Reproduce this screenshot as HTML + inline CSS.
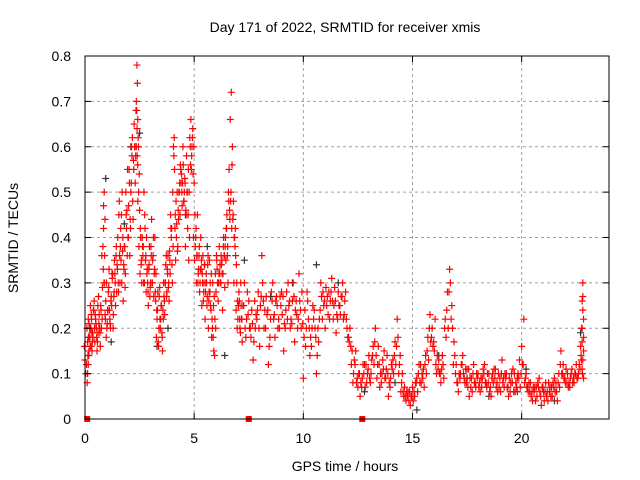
<!DOCTYPE html>
<html><head><meta charset="utf-8"><style>
html,body{margin:0;padding:0;background:#fff;}
svg{display:block;font-family:"Liberation Sans",sans-serif;}
</style></head><body>
<svg id="chart" width="640" height="480" viewBox="0 0 640 480" xmlns="http://www.w3.org/2000/svg">
<text x="345" y="32" font-size="14" text-anchor="middle">Day 171 of 2022, SRMTID for receiver xmis</text>
<text x="345" y="471" font-size="14" text-anchor="middle">GPS time / hours</text>
<text x="0" y="0" font-size="14" text-anchor="middle" transform="translate(18,238) rotate(-90)">SRMTID / TECUs</text>
<g id="grid"></g>
<g id="marks"></g>
<g id="axes"></g>
</svg>
<script>
const xTicks = [0, 5, 10, 15, 20];
const yTicks = [0, 0.1, 0.2, 0.3, 0.4, 0.5, 0.6, 0.7, 0.8];
const yTickLabels = ["0", "0.1", "0.2", "0.3", "0.4", "0.5", "0.6", "0.7", "0.8"];
const redHours = [
0,0.1,0.12,0.15,0.18,0.2,0.25,0.28,0.3,0.35,
0.4,0.45,0.5,0.55,0.6,0.65,0.7,0.75,0.8,0.85,
0.88,0.9,0.95,1.0,1.05,1.1,1.15,1.2,1.25,1.3,
1.35,1.4,1.45,1.5,1.55,1.6,1.65,1.7,1.75,1.8,
1.85,1.9,1.95,2.0,2.05,2.1,2.15,2.2,2.25,2.3,
2.35,2.38,2.4,2.42,2.45,2.5,2.55,2.6,2.65,2.7,
2.75,2.8,2.85,2.9,2.95,3.0,3.05,3.1,3.15,3.2,
3.25,3.3,3.35,3.4,3.45,3.5,3.55,3.6,3.65,3.7,
3.75,3.8,3.85,3.9,3.95,4.0,4.05,4.1,4.15,4.2,
4.25,4.3,4.35,4.4,4.45,4.5,4.55,4.6,4.65,4.7,
4.75,4.8,4.85,4.9,4.95,5.0,5.05,5.1,5.15,5.2,
5.25,5.3,5.35,5.4,5.45,5.5,5.55,5.6,5.65,5.7,
5.75,5.8,5.85,5.9,5.95,6.0,6.05,6.1,6.15,6.2,
6.25,6.3,6.35,6.4,6.45,6.5,6.55,6.6,6.65,6.7,
6.75,6.8,6.85,6.9,6.95,7.0,7.05,7.1,7.15,7.2,
7.3,7.4,7.5,7.6,7.7,7.8,7.9,8.0,8.1,8.2,
8.3,8.4,8.5,8.6,8.7,8.8,8.9,9.0,9.1,9.2,
9.3,9.4,9.5,9.6,9.7,9.8,9.9,10.0,10.1,10.2,
10.3,10.4,10.5,10.6,10.7,10.8,10.9,11.0,11.1,11.2,
11.3,11.4,11.5,11.6,11.7,11.8,11.9,12.0,12.1,12.2,
12.3,12.4,12.5,12.6,12.7,12.8,12.9,13.0,13.1,13.2,
13.3,13.4,13.5,13.6,13.7,13.8,13.9,14.0,14.1,14.2,
14.3,14.4,14.5,14.6,14.7,14.8,14.9,15.0,15.1,15.2,
15.3,15.4,15.5,15.6,15.7,15.8,15.9,16.0,16.1,16.2,
16.3,16.4,16.5,16.6,16.7,16.8,16.9,17.0,17.1,17.2,
17.3,17.4,17.5,17.6,17.7,17.8,17.9,18.0,18.1,18.2,
18.3,18.4,18.5,18.6,18.7,18.8,18.9,19.0,19.1,19.2,
19.3,19.4,19.5,19.6,19.7,19.8,19.9,20.0,20.1,20.2,
20.3,20.4,20.5,20.6,20.7,20.8,20.9,21.0,21.1,21.2,
21.3,21.4,21.5,21.6,21.7,21.8,21.9,22.0,22.1,22.2,
22.3,22.4,22.5,22.6,22.7,22.75,22.8,22.8,22.8,22.8];
const redValues = [
0.13,0.08,0.1,0.12,0.15,0.18,0.2,0.16,0.22,0.19,
0.24,0.17,0.21,0.15,0.19,0.23,0.16,0.2,0.29,0.42,
0.5,0.36,0.26,0.2,0.24,0.33,0.21,0.27,0.31,0.23,
0.35,0.25,0.28,0.4,0.45,0.3,0.35,0.5,0.26,0.38,
0.32,0.42,0.55,0.47,0.36,0.5,0.58,0.44,0.65,0.52,
0.7,0.78,0.74,0.66,0.6,0.46,0.4,0.3,0.36,0.5,
0.42,0.28,0.33,0.25,0.38,0.3,0.44,0.35,0.27,0.4,
0.32,0.22,0.17,0.27,0.2,0.25,0.15,0.3,0.23,0.34,
0.28,0.36,0.26,0.32,0.4,0.3,0.6,0.55,0.35,0.43,
0.38,0.5,0.45,0.52,0.47,0.56,0.5,0.38,0.58,0.42,
0.35,0.62,0.66,0.6,0.54,0.52,0.38,0.3,0.45,0.33,
0.28,0.4,0.25,0.36,0.3,0.22,0.32,0.27,0.2,0.35,
0.25,0.18,0.3,0.15,0.22,0.28,0.33,0.26,0.38,0.3,
0.34,0.24,0.4,0.29,0.35,0.45,0.3,0.55,0.66,0.72,
0.6,0.48,0.4,0.36,0.3,0.22,0.28,0.2,0.25,0.17,
0.3,0.22,0.26,0.18,0.13,0.2,0.24,0.16,0.36,0.2,
0.27,0.12,0.22,0.3,0.18,0.25,0.2,0.28,0.15,0.24,
0.3,0.2,0.26,0.17,0.23,0.32,0.2,0.09,0.16,0.26,
0.14,0.2,0.24,0.1,0.17,0.3,0.28,0.2,0.27,0.22,
0.31,0.25,0.19,0.28,0.23,0.3,0.26,0.2,0.17,0.12,
0.1,0.15,0.07,0.05,0.09,0.12,0.08,0.14,0.1,0.16,
0.2,0.12,0.07,0.1,0.15,0.11,0.05,0.09,0.13,0.17,
0.22,0.12,0.08,0.05,0.04,0.06,0.03,0.07,0.05,0.09,
0.12,0.08,0.11,0.14,0.18,0.23,0.2,0.15,0.1,0.13,
0.08,0.12,0.22,0.28,0.33,0.25,0.17,0.12,0.06,0.1,
0.14,0.08,0.11,0.05,0.09,0.12,0.07,0.1,0.06,0.09,
0.12,0.07,0.1,0.05,0.08,0.11,0.06,0.09,0.13,0.07,
0.1,0.05,0.08,0.11,0.06,0.09,0.13,0.16,0.22,0.1,
0.06,0.08,0.04,0.07,0.05,0.09,0.03,0.06,0.08,0.04,
0.07,0.05,0.09,0.06,0.1,0.15,0.12,0.08,0.1,0.07,
0.11,0.08,0.12,0.1,0.16,0.2,0.3,0.27,0.24,0.13];
const redValuesB = [
0.1,0.14,0.18,0.21,0.2,0.16,0.23,0.19,0.17,0.24,
0.2,0.22,0.18,0.25,0.21,0.19,0.24,0.22,0.33,0.3,
0.44,0.22,0.3,0.24,0.29,0.22,0.26,0.32,0.2,0.28,
0.3,0.38,0.33,0.28,0.36,0.42,0.3,0.4,0.33,0.29,
0.45,0.36,0.4,0.52,0.42,0.6,0.48,0.55,0.6,0.68,
0.64,0.56,0.62,0.5,0.54,0.42,0.35,0.38,0.3,0.45,
0.36,0.32,0.28,0.34,0.29,0.36,0.3,0.4,0.33,0.26,
0.24,0.28,0.2,0.22,0.25,0.18,0.22,0.26,0.3,0.27,
0.32,0.3,0.35,0.42,0.34,0.38,0.62,0.45,0.4,0.37,
0.44,0.52,0.55,0.5,0.6,0.48,0.52,0.45,0.5,0.55,
0.4,0.56,0.58,0.64,0.6,0.45,0.42,0.36,0.32,0.38,
0.33,0.35,0.3,0.28,0.34,0.3,0.25,0.36,0.28,0.3,
0.32,0.2,0.25,0.14,0.2,0.35,0.3,0.32,0.34,0.36,
0.32,0.38,0.36,0.4,0.42,0.38,0.48,0.44,0.5,0.56,
0.45,0.4,0.42,0.34,0.26,0.25,0.22,0.3,0.22,0.25,
0.2,0.28,0.2,0.24,0.17,0.23,0.28,0.25,0.3,0.24,
0.23,0.16,0.28,0.22,0.26,0.2,0.27,0.23,0.21,0.28,
0.25,0.22,0.3,0.24,0.2,0.26,0.28,0.18,0.2,0.22,
0.18,0.25,0.2,0.14,0.22,0.27,0.25,0.29,0.23,0.26,
0.26,0.29,0.23,0.25,0.27,0.22,0.28,0.18,0.2,0.15,
0.13,0.08,0.1,0.08,0.12,0.07,0.1,0.09,0.13,0.12,
0.14,0.16,0.1,0.13,0.09,0.14,0.08,0.12,0.1,0.12,
0.18,0.14,0.1,0.07,0.06,0.04,0.05,0.04,0.08,0.06,
0.08,0.1,0.07,0.1,0.13,0.17,0.16,0.22,0.14,0.1,
0.11,0.09,0.18,0.2,0.3,0.2,0.14,0.08,0.1,0.12,
0.1,0.11,0.07,0.09,0.06,0.08,0.1,0.07,0.09,0.11,
0.08,0.1,0.06,0.09,0.11,0.07,0.1,0.06,0.08,0.1,
0.07,0.09,0.1,0.06,0.08,0.1,0.07,0.12,0.08,0.07,
0.08,0.05,0.07,0.04,0.08,0.06,0.07,0.04,0.05,0.08,
0.05,0.08,0.06,0.04,0.07,0.1,0.09,0.11,0.07,0.09,
0.08,0.1,0.09,0.12,0.13,0.1,0.22,0.18,0.15,0.09];
const redValuesC = [
0.16,0.12,0.2,0.17,0.22,0.14,0.18,0.25,0.2,0.15,
0.18,0.26,0.23,0.2,0.17,0.27,0.2,0.25,0.36,0.38,
0.47,0.3,0.23,0.18,0.21,0.28,0.24,0.2,0.25,0.32,
0.27,0.32,0.36,0.34,0.3,0.48,0.38,0.45,0.37,0.34,
0.38,0.5,0.46,0.4,0.55,0.44,0.52,0.62,0.57,0.6,
0.58,0.6,0.68,0.58,0.48,0.38,0.32,0.34,0.4,0.38,
0.3,0.35,0.4,0.3,0.33,0.27,0.38,0.3,0.36,0.32,
0.28,0.18,0.24,0.16,0.29,0.22,0.19,0.24,0.27,0.3,
0.36,0.33,0.29,0.37,0.45,0.42,0.5,0.58,0.42,0.48,
0.5,0.46,0.5,0.56,0.54,0.52,0.48,0.53,0.46,0.5,
0.45,0.5,0.6,0.55,0.62,0.4,0.35,0.4,0.36,0.3,
0.36,0.3,0.33,0.32,0.26,0.34,0.28,0.3,0.34,0.26,
0.28,0.24,0.22,0.18,0.27,0.32,0.36,0.3,0.3,0.32,
0.3,0.35,0.32,0.36,0.38,0.42,0.36,0.5,0.46,0.48,
0.42,0.44,0.3,0.38,0.24,0.2,0.25,0.26,0.19,0.22,
0.25,0.18,0.23,0.2,0.21,0.26,0.22,0.2,0.27,0.26,
0.2,0.24,0.18,0.26,0.23,0.27,0.22,0.25,0.27,0.2,
0.22,0.26,0.21,0.27,0.26,0.22,0.24,0.21,0.24,0.28,
0.2,0.16,0.22,0.18,0.2,0.24,0.22,0.26,0.25,0.28,
0.28,0.22,0.26,0.22,0.25,0.27,0.23,0.22,0.18,0.16,
0.08,0.12,0.09,0.1,0.07,0.1,0.12,0.11,0.08,0.14,
0.17,0.09,0.12,0.08,0.11,0.09,0.1,0.07,0.11,0.14,
0.16,0.1,0.06,0.06,0.05,0.05,0.06,0.05,0.06,0.08,
0.1,0.12,0.09,0.12,0.15,0.2,0.18,0.17,0.12,0.11,
0.1,0.14,0.2,0.24,0.28,0.22,0.12,0.1,0.08,0.09,
0.12,0.09,0.08,0.11,0.07,0.1,0.08,0.09,0.08,0.07,
0.1,0.08,0.08,0.07,0.1,0.09,0.08,0.07,0.1,0.09,
0.09,0.07,0.06,0.08,0.1,0.07,0.09,0.1,0.12,0.09,
0.07,0.06,0.06,0.06,0.07,0.07,0.05,0.07,0.06,0.06,
0.06,0.07,0.07,0.08,0.08,0.12,0.1,0.09,0.08,0.08,
0.1,0.09,0.1,0.09,0.11,0.14,0.26,0.2,0.17,0.11];
const blackHours = [0.95,1.2,1.8,2.1,2.5,3.3,3.8,4.6,5.6,6.4,7.3,8.5,9.5,10.6,11.6,12.8,14.2,15.2,16.2,17.5,18.5,19.8,20.2,21.5,22.7];
const blackValues = [0.53,0.17,0.43,0.6,0.63,0.16,0.2,0.45,0.38,0.14,0.35,0.27,0.3,0.34,0.3,0.06,0.08,0.02,0.14,0.09,0.05,0.06,0.11,0.04,0.19];
const zeroHours = [0.1, 7.5, 12.7];

const L=85,R=609,T=56,B=419,XMAX=24,YMAX=0.8;
const xs=h=>L+(h/XMAX)*(R-L);
const ys=v=>B-(v/YMAX)*(B-T);
const NS="http://www.w3.org/2000/svg";
function mk(tag,parent,attrs){const e=document.createElementNS(NS,tag);for(const k in attrs)e.setAttribute(k,attrs[k]);parent.appendChild(e);return e;}
const grid=document.getElementById('grid'),marks=document.getElementById('marks'),axes=document.getElementById('axes');
xTicks.forEach((t,i)=>{
  if(t>0){const g=mk('line',grid,{x1:xs(t),x2:xs(t),y1:T,y2:B,stroke:'#a0a0a0','stroke-dasharray':'3,3'});
  
  }
  const tk=mk('path',axes,{d:`M${xs(t)},${B}v-6M${xs(t)},${T}v6`,stroke:'#000'});
  
  
  const lb=mk('text',axes,{x:xs(t),y:B+24,'font-size':14,'text-anchor':'middle'});lb.textContent=String(t);
  
  
});
yTicks.forEach((t,i)=>{
  if(t>0&&t<YMAX){const g=mk('line',grid,{x1:L,x2:R,y1:ys(t),y2:ys(t),stroke:'#a0a0a0','stroke-dasharray':'3,3'});
  
  }
  const tk=mk('path',axes,{d:`M${L},${ys(t)}h6M${R},${ys(t)}h-6`,stroke:'#000'});
  
  
  const lb=mk('text',axes,{x:L-14,y:ys(t)+5,'font-size':14,'text-anchor':'end'});lb.textContent=yTickLabels[i];
  
  
});
const frame=mk('rect',axes,{x:L,y:T,width:R-L,height:B-T,fill:'none',stroke:'#000'});


function plus(h,v,color,name){const x=xs(h),y=ys(v);
  const p=mk('path',marks,{d:`M${x-3.5},${y}h7M${x},${y-3.5}v7`,stroke:color,'stroke-width':1.2});
  
  }
blackHours.forEach((h,i)=>plus(h,blackValues[i],'#333','black-point'));
redHours.forEach((h,i)=>plus(h,redValues[i],'#ff0000','red-point'));
redHours.forEach((h,i)=>plus(h+0.035,redValuesB[i],'#ff0000','red-point'));
redHours.forEach((h,i)=>plus(h-0.03,redValuesC[i],'#ff0000','red-point'));
zeroHours.forEach(h=>{const r=mk('rect',marks,{x:xs(h)-3,y:B-3,width:6,height:6,fill:'#ff0000'});
  
  });
</script>
</body></html>
